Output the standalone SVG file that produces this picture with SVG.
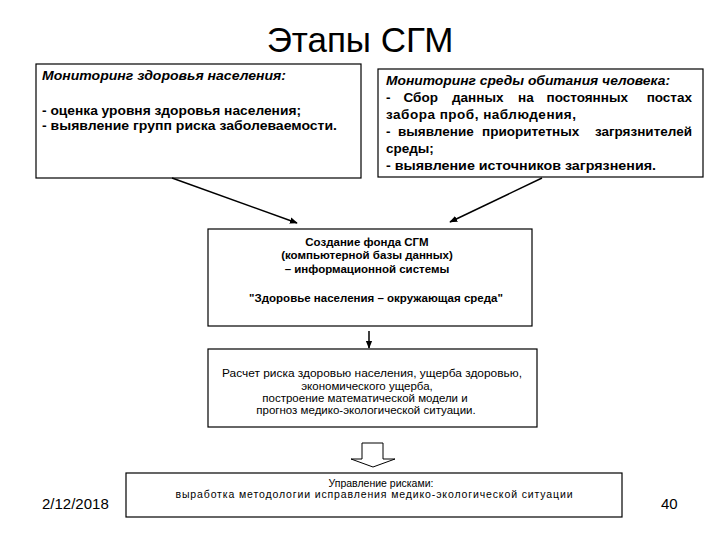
<svg xmlns="http://www.w3.org/2000/svg" width="720" height="540" viewBox="0 0 720 540">
<defs>
<marker id="ah" viewBox="0 0 10 10" refX="9" refY="5" markerWidth="8" markerHeight="8" markerUnits="userSpaceOnUse" orient="auto">
<path d="M0,1 L10,5 L0,9 z" fill="#000"/>
</marker>
<style>
.box{fill:#fff;stroke:#000;stroke-width:1.2}
.t{font-family:"Liberation Sans",Arial,sans-serif;fill:#000}
.b{font-weight:bold;font-size:13px}
.bi{font-weight:bold;font-style:italic;font-size:13px}
.b2{font-weight:bold;font-size:13.5px}
.bi2{font-weight:bold;font-style:italic;font-size:13.5px}
.m{font-weight:bold;font-size:11.5px;text-anchor:middle}
.r{font-size:11.5px;text-anchor:middle}
.s{font-size:10.5px;text-anchor:middle}
.conn{stroke:#000;stroke-width:1.5;fill:none}
</style>
</defs>
<rect width="720" height="540" fill="#fff"/>
<text class="t" x="360" y="52" font-size="35" text-anchor="middle">Этапы СГМ</text>

<g id="n1">
<rect class="box" x="36" y="64" width="325" height="114"/>
<text class="t bi" x="42" y="80" textLength="244" lengthAdjust="spacingAndGlyphs">Мониторинг здоровья населения:</text>
<text class="t b" x="42" y="115" textLength="259" lengthAdjust="spacingAndGlyphs">- оценка уровня здоровья населения;</text>
<text class="t b" x="42" y="130" textLength="295" lengthAdjust="spacingAndGlyphs">- выявление групп риска заболеваемости.</text>
</g>

<g id="n2">
<rect class="box" x="378" y="69" width="325" height="108"/>
<text class="t bi2" x="386" y="85" textLength="284" lengthAdjust="spacingAndGlyphs">Мониторинг среды обитания человека:</text>
<text class="t b2" y="102"><tspan x="386">-</tspan><tspan x="403.5">Сбор</tspan><tspan x="452">данных</tspan><tspan x="518">на</tspan><tspan x="546.5">постоянных</tspan><tspan x="692" text-anchor="end">постах</tspan></text>
<text class="t b2" x="386" y="119" textLength="190" lengthAdjust="spacing">забора проб, наблюдения,</text>
<text class="t b2" y="136"><tspan x="386">-</tspan><tspan x="398">выявление</tspan><tspan x="482">приоритетных</tspan><tspan x="692" text-anchor="end">загрязнителей</tspan></text>
<text class="t b2" x="386" y="153">среды;</text>
<text class="t b2" x="386" y="170" textLength="270" lengthAdjust="spacingAndGlyphs">- выявление источников загрязнения.</text>
</g>

<g id="n3">
<rect class="box" x="208" y="229" width="324" height="97"/>
<text class="t m" x="367" y="246">Создание фонда СГМ</text>
<text class="t m" x="367" y="259">(компьютерной базы данных)</text>
<text class="t m" x="367" y="273">– информационной системы</text>
<text class="t m" x="376" y="302" font-weight="normal">"Здоровье населения – окружающая среда"</text>
</g>

<g id="n4">
<rect class="box" x="208" y="349" width="329" height="78"/>
<text class="t r" x="372" y="377" textLength="300" lengthAdjust="spacingAndGlyphs">Расчет риска здоровью населения, ущерба здоровью,</text>
<text class="t r" x="367" y="390">экономического ущерба,</text>
<text class="t r" x="365" y="402">построение математической модели и</text>
<text class="t r" x="366" y="414">прогноз медико-экологической ситуации.</text>
</g>

<g id="n5">
<rect class="box" x="126" y="473" width="496" height="44"/>
<text class="t s" x="381" y="487">Управление рисками:</text>
<text class="t s" x="374" y="497.5" textLength="397" lengthAdjust="spacing">выработка методологии исправления медико-экологической ситуации</text>
</g>

<g id="connectors">
<line class="conn" x1="172" y1="178" x2="297" y2="223" marker-end="url(#ah)"/>
<line class="conn" x1="542" y1="178" x2="450" y2="222" marker-end="url(#ah)"/>
<line class="conn" x1="369" y1="331" x2="369" y2="348" marker-end="url(#ah)"/>
<path d="M362,443 L383,443 L383,459 L395,459 L373,467 L351,459 L362,459 Z" fill="#fff" stroke="#000" stroke-width="1"/>
</g>

<text class="t" x="42" y="509" font-size="15">2/12/2018</text>
<text class="t" x="661" y="509" font-size="15">40</text>
</svg>
